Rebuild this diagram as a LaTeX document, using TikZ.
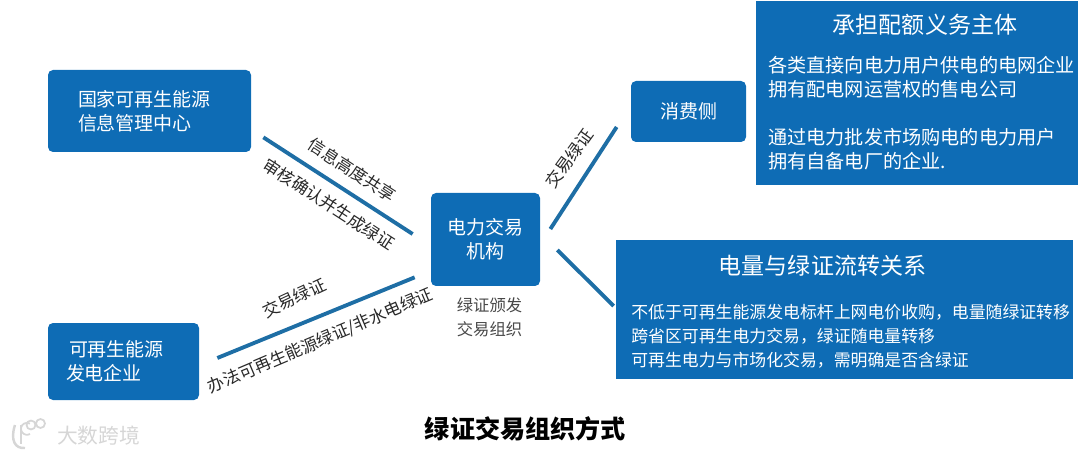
\documentclass[tikz,border=0pt]{standalone}
\usepackage{fontspec}
\setmainfont{Noto Sans CJK SC}
\definecolor{gcblue}{RGB}{14,108,181}
\definecolor{gcline}{RGB}{30,110,165}
\definecolor{gctext}{RGB}{40,40,40}
\definecolor{gcmark}{RGB}{214,214,214}
\usetikzlibrary{arrows.meta,positioning,calc}

\begin{document}
\begin{tikzpicture}[
    gbox/.style={rectangle, rounded corners=0.1cm, fill=gcblue, text=white, align=left,
      font=\fontsize{10.8}{13.7}\selectfont},
    pbox/.style={rectangle, fill=gcblue},
    ptitle/.style={text=white, inner sep=0pt, font=\fontsize{13.1}{16}\selectfont},
    pbody/.style={text=white, inner sep=0pt, align=left, anchor=north west},
    lnk/.style={draw=gcline, line width=2.2pt},
    lbl/.style={text=gctext, inner sep=0pt, font=\fontsize{9.6}{12}\selectfont}
  ]
    \useasboundingbox (0,0) rectangle (21.6,-9.1);

    % Left boxes
    \node[gbox, minimum width=4.06cm, minimum height=1.64cm, text width=2.86cm, inner xsep=0.6cm] (nea) at (2.99,-2.22)
      {国家可再生能源\\信息管理中心};
    \node[gbox, minimum width=3.02cm, minimum height=1.54cm, text width=2.3cm, inner xsep=0.36cm] (gen) at (2.47,-7.23)
      {\hspace*{0.06cm}可再生能源\\发电企业};

    % Centre box
    \node[gbox, minimum width=2.18cm, minimum height=1.86cm, align=center] (ex) at (9.71,-4.79)
      {电力交易\\机构};
    \node[lbl, text=gctext!85, align=center, font=\fontsize{9.3}{13.7}\selectfont] (exn) at (9.79,-6.35)
      {绿证颁发\\交易组织};

    % Right boxes
    \node[gbox, minimum width=2.3cm, minimum height=1.22cm, align=center] (con) at (13.77,-2.23) {消费侧};
    \node[pbox, minimum width=6.44cm, minimum height=3.68cm] (obl) at (18.34,-1.86) {};
    \node[pbox, minimum width=9.14cm, minimum height=2.78cm] (flow) at (16.89,-6.19) {};

    % Box texts
    \node[ptitle] (oblt) at (18.50,-0.50) {承担配额义务主体};
    \node[pbody, font=\fontsize{10.9}{13.7}\selectfont] (oblb) at (15.36,-1.12)
      {各类直接向电力用户供电的电网企业\\拥有配电网运营权的售电公司\\[0.47cm]
       通过电力批发市场购电的电力用户\\拥有自备电厂的企业.};
    \node[ptitle] (flowt) at (16.45,-5.32) {电量与绿证流转关系};
    \node[pbody, font=\fontsize{9.6}{13.7}\selectfont] (flowb) at (12.62,-6.07)
      {不低于可再生能源发电标杆上网电价收购，电量随绿证转移\\跨省区可再生电力交易，绿证随电量转移\\可再生电力与市场化交易，需明确是否含绿证};

    % Connectors
    \draw[lnk] ([shift={(0.24,0.30)}]nea.south east) -- ([shift={(-0.36,0.11)}]ex.west);
    \draw[lnk] ([shift={(0.36,0.07)}]gen.east) -- ([shift={(-0.32,0.18)}]ex.south west);
    \draw[lnk] ([shift={(0.20,0.21)}]ex.east) -- ([shift={(-0.28,-0.31)}]con.west);
    \draw[lnk] ([shift={(0.34,-0.21)}]ex.east) -- ([shift={(-0.04,0.07)}]flow.west);

    % Connector labels
    \node[lbl, rotate=-33] (l1a) at (7.04,-3.40) {信息高度共享};
    \node[lbl, rotate=-33] (l1b) at (6.58,-4.08) {审核确认并生成绿证};
    \node[lbl, rotate=25]  (l2a) at (5.88,-5.96) {交易绿证};
    \node[lbl, rotate=23]  (l2b) at (6.41,-6.82) {办法可再生能源绿证/非水电绿证};
    \node[lbl, rotate=54]  (l3a) at (11.38,-3.17) {交易绿证};

    % Caption and mark
    \node[inner sep=0pt, text=black, font=\fontsize{14.3}{17}\selectfont\bfseries] (cap) at (10.51,-8.58) {绿证交易组织方式};
    \node[inner sep=0pt, text=gcmark, font=\fontsize{11.8}{14}\selectfont] (wm) at (1.97,-8.72) {大数跨境};
    \draw[gcmark, line width=1.4pt] (0.30,-8.50) .. controls (0.20,-8.80) and (0.30,-8.98) .. (0.50,-8.96);
    \draw[gcmark, line width=1.4pt] (0.42,-8.50) -- (0.42,-8.88);
    \draw[gcmark, line width=1pt] (0.60,-8.68) arc (-60:-300:0.12);
    \draw[gcmark, line width=1pt] (0.62,-8.50) circle (0.09) (0.81,-8.47) circle (0.09);
  \end{tikzpicture}
\end{document}
